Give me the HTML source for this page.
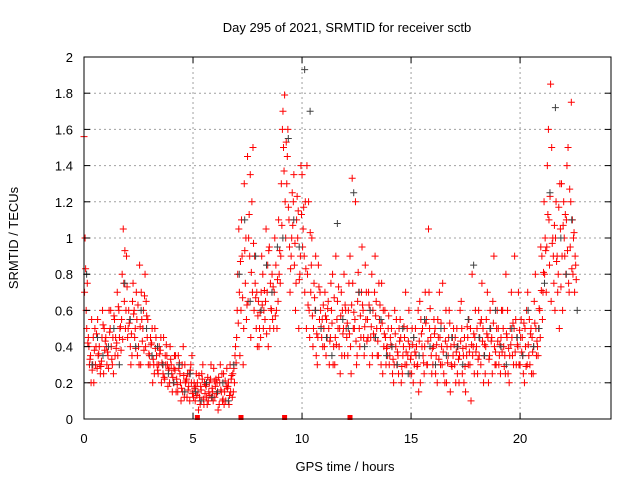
<!DOCTYPE html>
<html><head><meta charset="utf-8">
<style>
body{margin:0;background:#fff;}
svg{display:block;font-family:"Liberation Sans",Arial,sans-serif;}
</style></head>
<body>
<svg id="chart" width="640" height="480" viewBox="0 0 640 480" xmlns="http://www.w3.org/2000/svg">
<rect width="640" height="480" fill="#fff"/>
<text x="347" y="32" font-size="13" text-anchor="middle" fill="#000">Day 295 of 2021, SRMTID for receiver sctb</text>
<text x="0" y="0" font-size="13" text-anchor="middle" transform="translate(18,238) rotate(-90)">SRMTID / TECUs</text>
<text x="345" y="471" font-size="13" text-anchor="middle">GPS time / hours</text>
<g id="grid"></g><g id="marks"></g><g id="axes"></g>
</svg>
<script>
const xTicks=[0,5,10,15,20];
const yTicks=[0,0.2,0.4,0.6,0.8,1,1.2,1.4,1.6,1.8,2];
const yTickLabels=["0","0.2","0.4","0.6","0.8","1","1.2","1.4","1.6","1.8","2"];
const dt=0.1;
const redA=[1.56,0.6,0.45,0.35,0.3,0.5,0.28,0.4,0.32,0.25,
0.45,0.35,0.5,0.3,0.55,0.42,0.6,0.38,1.05,0.5,
0.45,0.55,0.35,0.6,0.7,0.4,0.3,0.5,0.8,0.45,
0.35,0.42,0.3,0.45,0.25,0.38,0.3,0.22,0.35,0.28,
0.3,0.2,0.35,0.15,0.25,0.3,0.12,0.22,0.18,0.3,
0.15,0.1,0.2,0.12,0.25,0.08,0.18,0.1,0.22,0.15,
0.12,0.2,0.08,0.15,0.25,0.1,0.18,0.3,0.12,0.2,
0.45,1.05,0.6,0.3,0.75,1.45,0.9,1.2,0.6,0.5,
0.65,0.45,0.8,0.55,0.7,0.95,0.6,0.5,0.85,0.65,
0.75,1.6,1.79,1.3,1.1,0.9,1.2,0.6,1.0,0.8,
1.35,0.9,0.5,1.2,0.7,0.4,0.6,0.3,0.55,0.45,
0.5,0.35,0.65,0.45,0.8,0.3,0.55,0.4,0.7,0.5,
0.6,0.35,0.9,1.33,0.5,0.3,0.7,0.45,0.6,0.85,
0.55,0.3,0.8,0.45,0.65,0.35,0.5,0.25,0.6,0.4,
0.3,0.5,0.2,0.4,0.35,0.55,0.25,0.45,0.3,0.6,
0.35,0.2,0.5,0.3,0.65,0.4,0.25,0.55,1.05,0.45,
0.3,0.5,0.2,0.7,0.4,0.25,0.6,0.35,0.15,0.45,
0.3,0.5,0.2,0.65,0.35,0.15,0.45,0.3,0.8,0.25,
0.4,0.6,0.3,0.5,0.25,0.7,0.35,0.45,0.9,0.3,
0.5,0.25,0.6,0.35,0.45,0.2,0.7,0.3,0.55,0.4,
0.3,0.45,0.2,0.6,0.35,0.5,0.25,0.8,0.4,0.6,
0.9,1.2,0.7,1.6,1.85,1.0,0.6,0.9,0.5,1.3,
1.2,0.8,1.5,0.95,1.1,0.7];
const redB=[1.0,0.75,0.3,0.55,0.2,0.4,0.35,0.25,0.6,0.38,
0.3,0.6,0.4,0.25,0.45,0.35,0.5,0.8,0.65,0.9,
0.6,0.3,0.75,0.5,0.35,0.85,0.55,0.38,0.65,0.3,
0.45,0.2,0.5,0.3,0.4,0.2,0.45,0.3,0.18,0.4,
0.15,0.35,0.22,0.28,0.1,0.4,0.2,0.25,0.1,0.35,
0.2,0.25,0.05,0.18,0.3,0.14,0.08,0.2,0.12,0.28,
0.22,0.05,0.3,0.1,0.15,0.28,0.08,0.22,0.15,0.4,
0.8,0.35,0.9,1.3,0.55,1.0,0.45,1.5,0.75,0.4,
0.5,0.9,0.6,1.05,0.4,0.75,0.55,1.0,0.5,0.8,
1.3,1.5,1.0,1.6,0.7,1.25,0.85,1.1,0.5,1.4,
1.05,1.2,0.8,0.45,1.0,0.75,0.35,0.85,0.6,0.4,
0.7,0.45,0.3,0.6,0.4,0.9,0.5,0.25,0.6,0.35,
0.45,0.75,0.25,0.5,1.2,0.65,0.4,0.95,0.35,0.7,
0.7,0.45,0.6,0.9,0.35,0.55,0.75,0.4,0.3,0.5,
0.45,0.25,0.6,0.3,0.5,0.2,0.4,0.7,0.35,0.25,
0.5,0.3,0.4,0.15,0.55,0.35,0.7,0.3,0.5,0.25,
0.55,0.35,0.45,0.3,0.75,0.2,0.4,0.6,0.3,0.5,
0.2,0.4,0.6,0.25,0.45,0.35,0.55,0.1,0.4,0.6,
0.25,0.45,0.75,0.35,0.55,0.2,0.5,0.65,0.3,0.6,
0.35,0.6,0.4,0.8,0.25,0.5,0.35,0.9,0.45,0.3,
0.55,0.25,0.4,0.7,0.3,0.45,0.65,0.35,0.5,0.95,
0.7,1.0,1.4,0.85,1.5,0.75,1.2,0.8,1.05,0.6,
0.9,1.4,0.7,1.75,1.0,0.85];
const redC=[0.7,0.5,0.4,0.2,0.45,0.3,0.55,0.3,0.45,0.5,
0.4,0.28,0.6,0.45,0.35,0.7,0.45,0.55,0.75,0.6,
0.5,0.4,0.65,0.45,0.55,0.3,0.7,0.6,0.4,0.55,
0.3,0.5,0.25,0.35,0.3,0.45,0.25,0.35,0.3,0.2,
0.25,0.28,0.15,0.35,0.2,0.15,0.3,0.12,0.25,0.2,
0.12,0.18,0.15,0.08,0.22,0.2,0.12,0.15,0.3,0.1,
0.18,0.15,0.2,0.25,0.08,0.18,0.2,0.15,0.25,0.35,
0.6,0.7,1.1,0.5,1.0,0.65,1.35,0.7,0.9,0.7,
0.4,0.7,0.5,0.65,0.85,0.5,0.8,0.7,0.6,1.1,
0.9,1.7,1.2,1.45,0.95,1.0,1.35,0.75,1.15,0.9,
0.95,0.7,1.4,0.6,0.85,0.5,0.9,0.45,0.7,0.55,
0.4,0.55,0.5,0.75,0.3,0.45,0.65,0.5,0.35,0.8,
0.5,0.6,0.4,0.75,0.55,0.35,0.5,0.7,0.45,0.55,
0.45,0.6,0.35,0.7,0.5,0.75,0.3,0.6,0.45,0.35,
0.35,0.4,0.3,0.55,0.25,0.45,0.35,0.3,0.5,0.4,
0.25,0.45,0.35,0.6,0.2,0.5,0.4,0.3,0.7,0.35,
0.4,0.25,0.55,0.45,0.3,0.5,0.2,0.45,0.4,0.35,
0.45,0.25,0.35,0.5,0.2,0.4,0.3,0.5,0.35,0.45,
0.5,0.35,0.55,0.2,0.4,0.45,0.6,0.25,0.4,0.5,
0.3,0.45,0.5,0.25,0.6,0.35,0.45,0.5,0.3,0.7,
0.45,0.35,0.5,0.3,0.55,0.25,0.4,0.5,0.35,0.45,
0.55,0.8,0.95,1.1,0.65,0.9,1.0,0.7,1.3,0.9,
1.0,1.1,0.75,1.2,0.8,0.9];
const redD=[0.83,0.42,0.33,0.27,0.38,0.47,0.36,0.29,0.52,0.43,
0.37,0.48,0.33,0.57,0.39,0.62,0.51,0.44,0.93,0.73,
0.53,0.47,0.58,0.39,0.63,0.51,0.43,0.68,0.57,0.36,
0.41,0.33,0.39,0.27,0.36,0.31,0.23,0.41,0.27,0.33,
0.23,0.27,0.19,0.31,0.17,0.24,0.21,0.16,0.27,0.14,
0.17,0.13,0.24,0.16,0.11,0.19,0.23,0.13,0.17,0.21,
0.14,0.23,0.16,0.11,0.21,0.17,0.13,0.24,0.28,0.31,
0.53,0.87,0.67,0.93,0.63,1.13,0.81,0.97,0.67,0.57,
0.59,0.63,0.71,0.47,0.93,0.61,0.73,0.57,0.77,0.93,
1.07,1.37,1.53,1.17,0.83,1.07,0.97,1.23,0.77,1.13,
1.17,0.83,0.63,1.03,0.57,0.67,0.47,0.73,0.51,0.63,
0.57,0.61,0.43,0.53,0.67,0.41,0.73,0.57,0.47,0.63,
0.53,0.47,0.63,0.59,0.43,0.81,0.57,0.63,0.51,0.43,
0.63,0.51,0.47,0.57,0.43,0.63,0.53,0.47,0.39,0.57,
0.41,0.33,0.47,0.37,0.43,0.29,0.51,0.37,0.43,0.33,
0.41,0.37,0.29,0.43,0.47,0.31,0.53,0.43,0.61,0.39,
0.47,0.41,0.33,0.53,0.37,0.43,0.31,0.53,0.29,0.41,
0.37,0.33,0.43,0.39,0.29,0.51,0.37,0.41,0.47,0.37,
0.33,0.53,0.43,0.41,0.47,0.33,0.43,0.53,0.37,0.43,
0.41,0.37,0.29,0.47,0.39,0.41,0.53,0.37,0.41,0.49,
0.37,0.53,0.29,0.41,0.47,0.37,0.53,0.43,0.61,0.71,
0.81,0.93,1.13,1.23,0.97,1.07,0.87,1.17,0.73,1.07,
1.13,0.93,1.27,0.83,1.03,0.77];
const grayDt=0.25;
const grayY=[0.8,0.3,0.45,0.35,0.4,0.5,0.3,0.75,
0.55,0.4,0.6,0.5,0.35,0.4,0.3,0.25,
0.2,0.3,0.15,0.25,0.15,0.1,0.2,0.12,
0.15,0.2,0.1,0.3,0.8,1.1,0.65,0.9,
0.6,0.85,0.7,0.95,1.0,1.55,1.1,0.95,
1.93,1.7,0.6,0.5,0.45,0.35,1.08,0.55,
0.5,1.25,0.7,0.4,0.6,0.45,0.55,0.35,
0.4,0.3,0.5,0.25,0.45,0.35,0.55,0.4,
0.3,0.5,0.35,0.45,0.4,0.3,0.55,0.85,
0.45,0.35,0.5,0.6,0.4,0.3,0.5,0.45,
0.35,0.6,0.4,0.5,0.75,1.25,1.72,1.0,
0.8,1.1,0.6];
const gapTimes=[5.2,7.2,9.2,12.2];

const L=84,R=611,T=57,B=419,XMAX=24.17,YMAX=2;
const sx=v=>L+v/XMAX*(R-L);
const sy=v=>B-v/YMAX*(B-T);
const NS="http://www.w3.org/2000/svg";
function mk(tag,attrs,parent){const e=document.createElementNS(NS,tag);for(const k in attrs)e.setAttribute(k,attrs[k]);parent.appendChild(e);return e;}
const grid=document.getElementById('grid'),marks=document.getElementById('marks'),axes=document.getElementById('axes');
yTicks.forEach((v,i)=>{
  if(v>0&&v<YMAX){const g=mk('line',{x1:L,x2:R,y1:sy(v),y2:sy(v),stroke:'#a0a0a0','stroke-dasharray':'2,3','stroke-width':1},grid);
  
  }
  mk('line',{x1:L,x2:L+6,y1:sy(v),y2:sy(v),stroke:'#000'},axes);
  mk('line',{x1:R,x2:R-6,y1:sy(v),y2:sy(v),stroke:'#000'},axes);
  const t=mk('text',{x:L-11,y:sy(v)+5,'font-size':13,'text-anchor':'end'},axes);
  
  
  t.textContent=yTickLabels[i];
});
xTicks.forEach(v=>{
  if(v>0){const g=mk('line',{x1:sx(v),x2:sx(v),y1:T,y2:B,stroke:'#a0a0a0','stroke-dasharray':'2,3','stroke-width':1},grid);
  
  }
  mk('line',{x1:sx(v),x2:sx(v),y1:B,y2:B-6,stroke:'#000'},axes);
  mk('line',{x1:sx(v),x2:sx(v),y1:T,y2:T+6,stroke:'#000'},axes);
  const t=mk('text',{x:sx(v),y:B+24,'font-size':13,'text-anchor':'middle'},axes);
  
  
  t.textContent=String(v);
});
const frame=mk('rect',{x:L,y:T,width:R-L,height:B-T,fill:'none',stroke:'#000','stroke-width':1},axes);


function plus(x,y,c,parent){
  const p=mk('path',{d:`M${x-3.5},${y}h7M${x},${y-3.5}v7`,stroke:c,'stroke-width':1,fill:'none'},parent);
  
  
}
[[redA,0],[redB,0.05],[redC,0.025],[redD,0.075]].forEach(([arr,off])=>{
  arr.forEach((v,i)=>plus(sx(i*dt+off),sy(v),'#ff0000',marks));
});
grayY.forEach((v,i)=>plus(sx(i*grayDt+0.12),sy(v),'#404040',marks));
gapTimes.forEach(t=>{
  const r=mk('rect',{x:sx(t)-2.5,y:B-4,width:5,height:5,fill:'#ff0000'},marks);
  
  
});
</script>
</body></html>
